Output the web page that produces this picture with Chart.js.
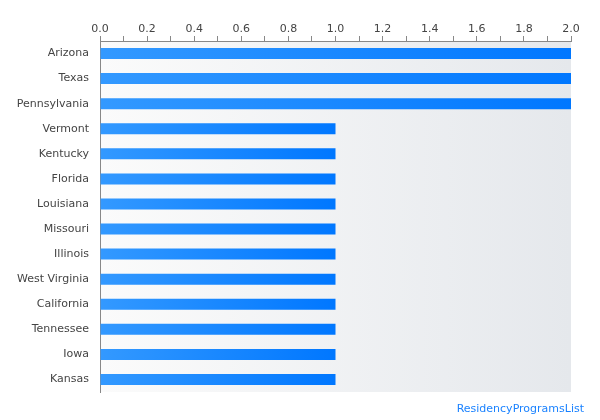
<!DOCTYPE html>
<html>
<head>
<meta charset="utf-8">
<script src="https://cdn.jsdelivr.net/npm/chart.js@4"></script>
<style>
    html, body { margin: 0; padding: 0; background: #fff; }
    #wrap { width: 600px; height: 420px; position: relative; }
</style>
</head>
<body>
<div id="wrap"><canvas id="chart"></canvas></div>
<script>
const states = ['Arizona', 'Texas', 'Pennsylvania', 'Vermont', 'Kentucky', 'Florida', 'Louisiana',
    'Missouri', 'Illinois', 'West Virginia', 'California', 'Tennessee', 'Iowa', 'Kansas'];
const programs = [2, 2, 2, 1, 1, 1, 1, 1, 1, 1, 1, 1, 1, 1];
const creditText = 'ResidencyProgramsList';

Chart.defaults.font.family = '"DejaVu Sans", Verdana, sans-serif';
Chart.defaults.font.size = 11;
Chart.defaults.color = '#444';

// plot background fades from near white to a pale grey-blue
const plotBackground = {
    id: 'plotBackground',
    beforeDraw(chart) {
        const { ctx, chartArea: a } = chart;
        const g = ctx.createLinearGradient(a.left, 0, a.right, 0);
        g.addColorStop(0, '#fbfbfb');
        g.addColorStop(1, '#e5e8ec');
        ctx.save();
        ctx.fillStyle = g;
        ctx.fillRect(a.left, a.top, a.right - a.left, a.bottom - a.top);
        ctx.restore();
    }
};

const credit = {
    id: 'credit',
    afterDraw(chart) {
        const { ctx } = chart;
        ctx.save();
        ctx.font = '11px "DejaVu Sans", Verdana, sans-serif';
        ctx.fillStyle = '#1a82ff';
        ctx.textAlign = 'right';
        ctx.textBaseline = 'middle';
        ctx.fillText(creditText, 584, 409);
        ctx.restore();
    }
};

function barGradient(c) {
    const chart = c.chart;
    const x = chart.scales.x;
    const v = programs[c.dataIndex];
    if (!x || v == null) return '#1f88ff';
    const x0 = x.getPixelForValue(0);
    const x1 = x.getPixelForValue(v);
    if (!isFinite(x0) || !isFinite(x1) || x1 <= x0) return '#1f88ff';
    const g = chart.ctx.createLinearGradient(x0, 0, x1, 0);
    g.addColorStop(0, '#3399ff');
    g.addColorStop(1, '#0077ff');
    return g;
}

new Chart(document.getElementById('chart'), {
    type: 'bar',
    data: {
        labels: states,
        datasets: [{
            data: programs,
            backgroundColor: barGradient,
            borderWidth: 0,
            categoryPercentage: 1,
            barPercentage: 0.44
        }]
    },
    options: {
        indexAxis: 'y',
        responsive: true,
        maintainAspectRatio: false,
        animation: false,
        layout: { padding: { top: 0, right: 29, bottom: 28, left: 0 } },
        scales: {
            x: {
                position: 'top',
                min: 0,
                max: 2,
                afterFit: s => { s.height = 41; },
                ticks: {
                    stepSize: 0.1,
                    autoSkip: false,
                    maxRotation: 0,
                    padding: 0,
                    color: '#444',
                    callback: v => (Math.round(v * 10) % 2 === 0 ? v.toFixed(1) : '')
                },
                grid: { drawOnChartArea: false, drawTicks: true, tickLength: 5, color: '#888' },
                border: { display: true, color: '#888' }
            },
            y: {
                afterFit: s => { s.width = 100; },
                ticks: { padding: 11, color: '#444' },
                grid: { drawOnChartArea: false, drawTicks: false },
                border: { display: true, color: '#888' }
            }
        },
        plugins: {
            legend: { display: false },
            tooltip: { enabled: false }
        }
    },
    plugins: [plotBackground, credit]
});
</script>
</body>
</html>
